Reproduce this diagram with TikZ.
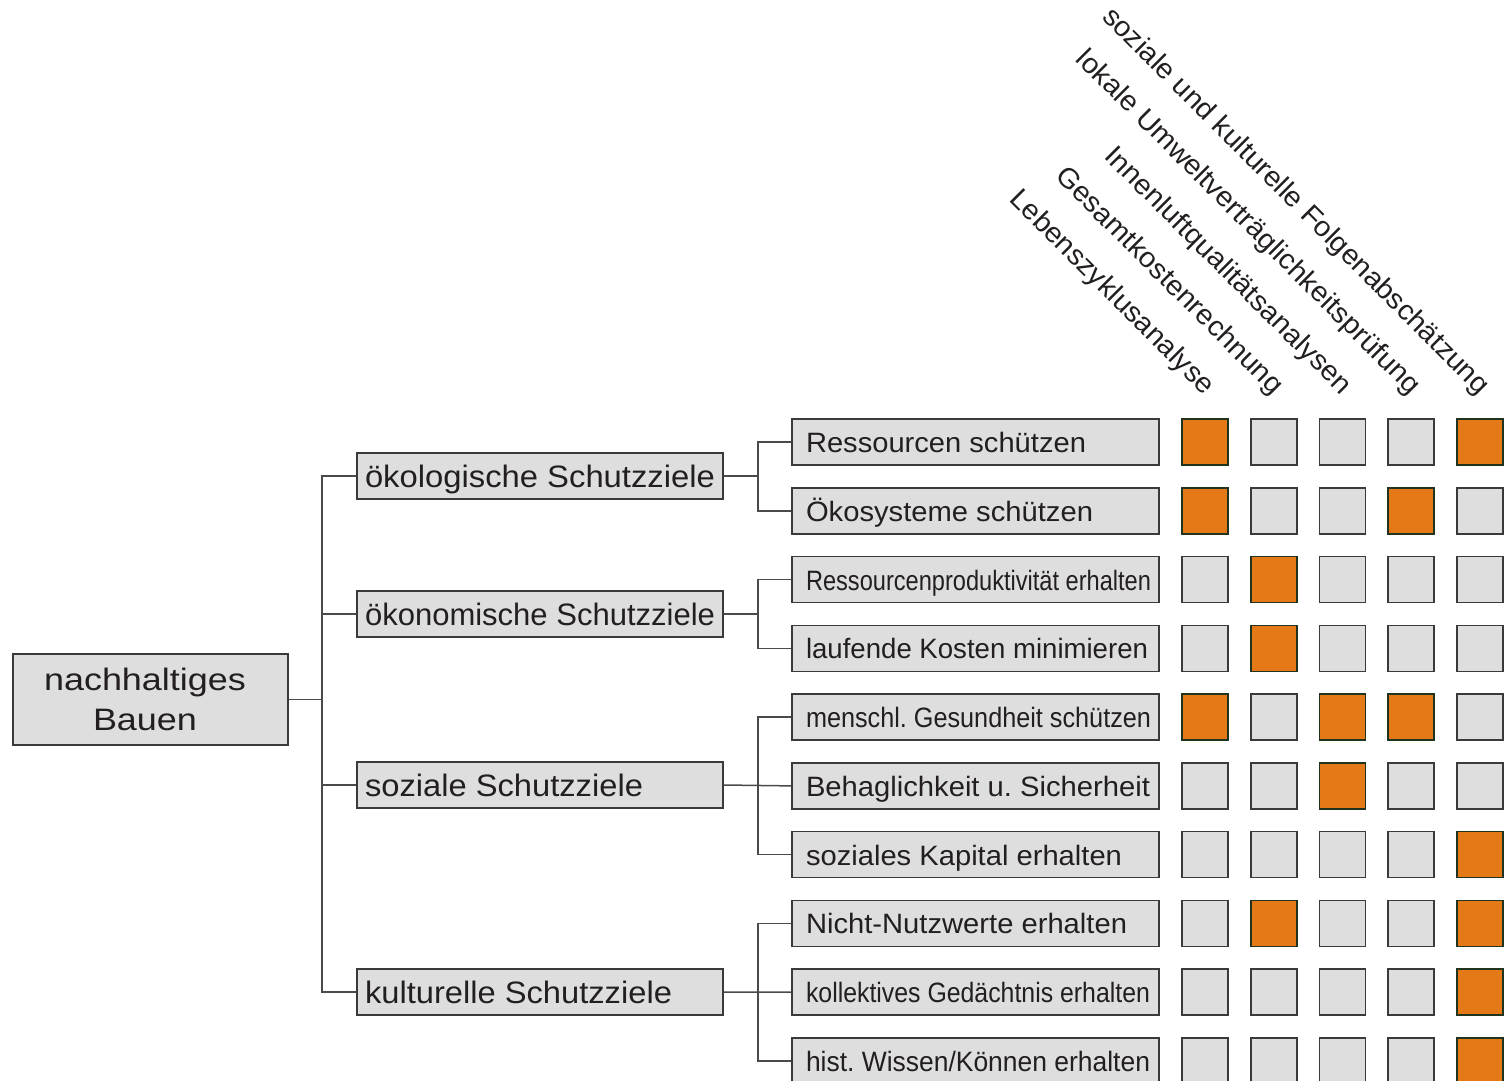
\documentclass[tikz,border=0pt]{standalone}
\usepackage{fontspec}
\setmainfont{Liberation Sans}
\usepackage{graphicx}
\frenchspacing

\definecolor{boxfill}{HTML}{DEDEDE}
\definecolor{boxline}{HTML}{3A3A3A}
\definecolor{hitfill}{HTML}{E57918}
\definecolor{hitline}{HTML}{1F331F}
\definecolor{ink}{HTML}{231F20}
\definecolor{wirecol}{HTML}{4A4A4A}

\tikzset{
  base/.style={draw=boxline, fill=boxfill, line width=1.6pt, inner sep=0pt, text=ink},
  rootbox/.style={base, minimum width=275pt, minimum height=91pt, align=center,
    font=\fontsize{31pt}{40pt}\selectfont},
  goalbox/.style={base, minimum width=366pt, minimum height=46pt,
    text height=22pt, text depth=0pt, font=\fontsize{31pt}{37pt}\selectfont},
  subbox/.style={base, minimum width=367pt, minimum height=46pt,
    text height=21pt, text depth=0pt, font=\fontsize{28pt}{34pt}\selectfont},
  cell/.style={line width=1.6pt, minimum size=46pt, inner sep=0pt},
  method/.style={rotate=-45, anchor=base east, inner sep=0pt, text=ink,
    font=\fontsize{28pt}{34pt}\selectfont},
  wire/.style={draw=wirecol, line width=1.5pt},
}

\begin{document}
\begin{tikzpicture}[x=1pt, y=-1pt]
  \useasboundingbox (0,0) rectangle (1507,1081);

  % branch points of the tree
  \coordinate (spine) at (322,476);
  \coordinate (fork) at (758,476);

  % root
  \node[rootbox] (root) at (150.5,699.5)
    {\scalebox{1.16}[1]{nachhaltiges}\hspace*{11pt}\\\scalebox{1.16}[1]{Bauen}\hspace*{11pt}};

  % protection goal groups
  \foreach \i/\y/\w/\t in {
      1/476/350/ökologische Schutzziele,
      2/614/350/ökonomische Schutzziele,
      3/785/278/soziale Schutzziele,
      4/992/307/kulturelle Schutzziele}{
    \node[goalbox] (g\i) at (540,\y)
      {\makebox[366pt][l]{\hspace{8pt}\resizebox{\w pt}{\height}{\t}}};
  }

  % individual goals
  \foreach \i/\w/\t in {
      1/280/Ressourcen schützen,
      2/287/Ökosysteme schützen,
      3/345/Ressourcenproduktivität erhalten,
      4/342/laufende Kosten minimieren,
      5/345/menschl. Gesundheit schützen,
      6/344/Behaglichkeit u. Sicherheit,
      7/316/soziales Kapital erhalten,
      8/321/Nicht-Nutzwerte erhalten,
      9/344/kollektives Gedächtnis erhalten,
      10/344/{hist. Wissen/Können erhalten}}{
    \node[subbox] (s\i) at (975.5,{442+(\i-1)*68.78})
      {\makebox[367pt][l]{\hspace{14pt}\resizebox{\w pt}{\height}{\t}}};
  }

  % assessment methods (column heads)
  \foreach \c/\t in {
      1/Lebenszyklusanalyse,
      2/Gesamtkostenrechnung,
      3/Innenluftqualitätsanalysen,
      4/lokale Umweltverträglichkeitsprüfung,
      5/soziale und kulturelle Folgenabschätzung}{
    \node[method] (m\c) at ({1204+(\c-1)*68.75},396) {\scalebox{1.04}[1]{\t}};
  }

  % relevance matrix: 1 = method addresses the goal
  \foreach \r/\pat in {
      1/{1,0,0,0,1},
      2/{1,0,0,1,0},
      3/{0,1,0,0,0},
      4/{0,1,0,0,0},
      5/{1,0,1,1,0},
      6/{0,0,1,0,0},
      7/{0,0,0,0,1},
      8/{0,1,0,0,1},
      9/{0,0,0,0,1},
      10/{0,0,0,0,1}}{
    \foreach \v [count=\c] in \pat {
      \ifnum\v=1
        \colorlet{cf}{hitfill}\colorlet{cd}{hitline}
      \else
        \colorlet{cf}{boxfill}\colorlet{cd}{boxline}
      \fi
      \node[cell, fill=cf, draw=cd] (c-\r-\c)
        at ({1205+(\c-1)*68.75},{442+(\r-1)*68.78}) {};
    }
  }

  % tree connectors
  \draw[wire] (root.east) -- (root.east -| spine);
  \draw[wire] (g1.west) -- (g1.west -| spine) |- (g4.west);
  \draw[wire] (g2.west) -- (g2.west -| spine);
  \draw[wire] (g3.west) -- (g3.west -| spine);

  \draw[wire] (g1.east) -- (g1.east -| fork);
  \draw[wire] (s1.west) -- (s1.west -| fork) |- (s2.west);
  \draw[wire] (g2.east) -- (g2.east -| fork);
  \draw[wire] (s3.west) -- (s3.west -| fork) |- (s4.west);
  \draw[wire] (g3.east) -- (s6.west);
  \draw[wire] (s5.west) -- (s5.west -| fork) |- (s7.west);
  \draw[wire] (g4.east) -- (s9.west);
  \draw[wire] (s8.west) -- (s8.west -| fork) |- (s10.west);
\end{tikzpicture}
\end{document}
